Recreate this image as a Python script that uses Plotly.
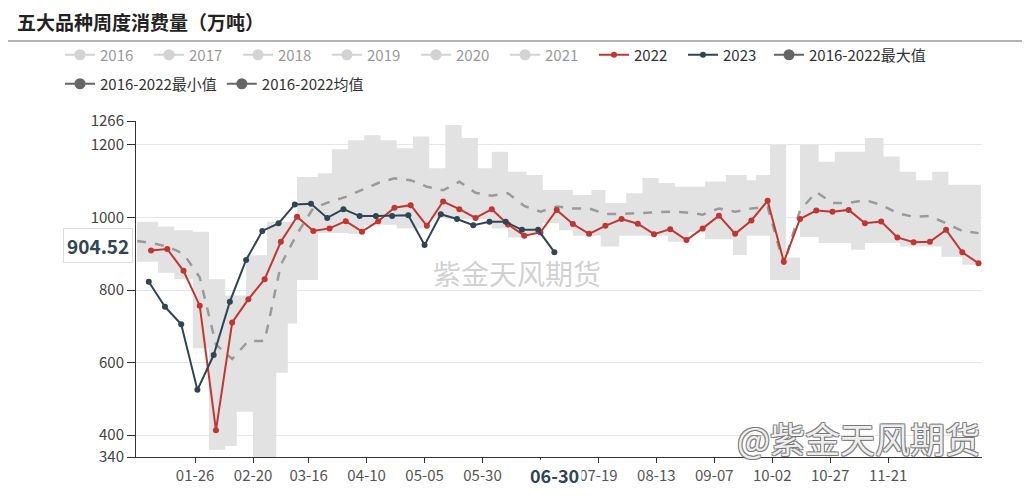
import plotly.graph_objects as go

# ---------------- data ----------------
dates_2022 = ['01-07', '01-14', '01-21', '01-28', '02-04', '02-11', '02-18', '02-25',
              '03-04', '03-11', '03-18', '03-25', '04-01', '04-08', '04-15', '04-22',
              '04-29', '05-06', '05-13', '05-20', '05-27', '06-03', '06-10', '06-17',
              '06-24', '07-01', '07-08', '07-15', '07-22', '07-29', '08-05', '08-12',
              '08-19', '08-26', '09-02', '09-09', '09-16', '09-23', '09-30', '10-07',
              '10-14', '10-21', '10-28', '11-04', '11-11', '11-18', '11-25', '12-02',
              '12-09', '12-16', '12-23', '12-30']
cons_2022 = [909, 913, 853, 757, 414, 711, 775, 830, 933, 1002, 963, 970, 990,
             961, 990, 1027, 1034, 977, 1044, 1023, 999, 1023, 981, 950, 959, 1021,
             982, 955, 977, 996, 983, 954, 968, 938, 970, 1005, 955, 992, 1046, 878,
             996, 1019, 1016, 1021, 984, 989, 945, 932, 933, 966, 904, 874]

dates_2023 = ['01-06', '01-13', '01-20', '01-27', '02-03', '02-10', '02-17', '02-24',
              '03-03', '03-10', '03-17', '03-24', '03-31', '04-07', '04-14', '04-21',
              '04-28', '05-05', '05-12', '05-19', '05-26', '06-02', '06-09', '06-16',
              '06-23', '06-30']
cons_2023 = [823, 754, 706, 525, 621, 768, 883, 963, 984, 1036, 1038, 999, 1023,
             1004, 1004, 1004, 1006, 924, 1009, 996, 979, 988, 988, 966, 966, 904.52]

mean_dates = ['01-01'] + dates_2022
mean_2016_2022 = [935, 930, 920, 900, 835, 650, 610, 660, 660, 870, 955, 1026, 1043, 1057,
                  1076, 1095, 1108, 1103, 1085, 1075, 1099, 1068, 1060, 1067, 1032, 1016, 1030,
                  1025, 1025, 1010, 1010, 1012, 1015, 1016, 1014, 1008, 1025, 1016, 1025, 1030, 870,
                  1020, 1070, 1040, 1040, 1048, 1035, 1012, 1002, 1004, 984, 963, 957]

band_dates = ['01-01', '01-10', '01-17', '01-25', '02-01', '02-08', '02-13', '02-17', '02-20',
              '02-26', '03-02', '03-07', '03-11', '03-20', '03-26', '04-02', '04-09', '04-16',
              '04-23', '04-30', '05-07', '05-14', '05-21', '05-28', '06-03', '06-10', '06-18',
              '06-25', '07-02', '07-08', '07-16', '07-20', '07-22', '07-28', '07-31', '08-07',
              '08-14', '08-18', '08-21', '08-27', '09-03', '09-12', '09-15', '09-21', '09-25',
              '10-01', '10-08', '10-14', '10-22', '10-29', '11-05', '11-11', '11-19', '11-26',
              '12-03', '12-10', '12-14', '12-17', '12-23', '12-31']
band_max = [988, 975, 965, 961, 830, 785, 785, 896, 896, 988, 988, 988, 1112, 1122, 1188,
            1213, 1227, 1213, 1191, 1223, 1136, 1255, 1219, 1136, 1181, 1126, 1117, 1076,
            1076, 1062, 1076, 1076, 1040, 1040, 1067, 1109, 1095, 1095, 1085, 1085, 1099,
            1117, 1117, 1103, 1117, 1200, 890, 1200, 1154, 1181, 1181, 1219, 1168, 1126,
            1103, 1126, 1126, 1090, 1090, 1090]
band_min = [878, 848, 830, 640, 360, 370, 465, 465, 340, 340, 572, 708, 828, 957, 957,
            955, 978, 980, 970, 970, 1000, 995, 995, 995, 970, 945, 955, 985, 965, 950,
            950, 920, 920, 950, 950, 950, 950, 933, 933, 960, 940, 940, 897, 950, 950,
            828, 828, 946, 930, 930, 911, 930, 930, 920, 920, 920, 892, 892, 870, 870]

hidden_years = ['2016', '2017', '2018', '2019', '2020', '2021']
x_tick_labels = ['01-26', '02-20', '03-16', '04-10', '05-05', '05-30', '06-24', '07-19',
                 '08-13', '09-07', '10-02', '10-27', '11-21']
y_ticks = [340, 400, 600, 800, 1000, 1200, 1266]

TITLE = '五大品种周度消费量（万吨）'
WATERMARK = '紫金天风期货'

FONT = 'Noto Sans CJK SC, Noto Sans, sans-serif'
RED = '#c23531'
DARK = '#2f4554'
GREY_LEG = '#666666'


def to_x(md):
    return '2001-' + md


fig = go.Figure()

# min / max band (step shaped)
fig.add_trace(go.Scatter(
    x=[to_x(d) for d in band_dates], y=band_min, mode='lines', line=dict(width=0, shape='hv'),
    showlegend=False, hoverinfo='skip'))
fig.add_trace(go.Scatter(
    x=[to_x(d) for d in band_dates], y=band_max, mode='lines', line=dict(width=0, shape='hv'),
    fill='tonexty', fillcolor='rgb(226,226,226)', showlegend=False, hoverinfo='skip'))

# mean dashed
fig.add_trace(go.Scatter(
    x=[to_x(d) for d in mean_dates], y=mean_2016_2022, mode='lines',
    line=dict(color='#9a9a9a', width=2.5, dash='dash'), showlegend=False))

# legend-only historical years
for yr in hidden_years:
    fig.add_trace(go.Scatter(
        x=[None], y=[None], name=yr, mode='lines+markers', visible='legendonly',
        line=dict(color='#a8a8a8', width=2), marker=dict(size=11, color='#a8a8a8'),
        legend='legend', legendwidth=44))

fig.add_trace(go.Scatter(
    x=[to_x(d) for d in dates_2022], y=cons_2022, name='2022', mode='lines+markers',
    line=dict(color=RED, width=2), marker=dict(size=6, color=RED),
    legend='legend', legendwidth=44))
fig.add_trace(go.Scatter(
    x=[to_x(d) for d in dates_2023], y=cons_2023, name='2023', mode='lines+markers',
    line=dict(color=DARK, width=2), marker=dict(size=6, color=DARK),
    legend='legend', legendwidth=41))

for nm, lg in [('2016-2022最大值', 'legend'), ('2016-2022最小值', 'legend2'),
               ('2016-2022均值', 'legend2')]:
    fig.add_trace(go.Scatter(
        x=[None], y=[None], name=nm, mode='lines+markers',
        line=dict(color=GREY_LEG, width=2), marker=dict(size=11, color=GREY_LEG),
        legend=lg))

# ---------------- layout ----------------
# the page body has an 8px margin, so reference pixel positions are shifted by OFF
OFF = 8
W, H = 1030, 500
PL, PR, PT, PB = 136, 982, 121, 457          # plot area in reference pixels
L, R, T, B = PL - OFF, W - (PR - OFF), PT - OFF, H - (PB - OFF)
pw, ph = W - L - R, H - T - B


def px_x(px):
    return (px - OFF - L) / pw


def px_y(py):
    return (H - B - (py - OFF)) / ph


tick_text = ['' if t == dates_2023[-1][:2] + '-24' else t for t in x_tick_labels]

fig.update_layout(
    width=W, height=H,
    margin=dict(l=L, r=R, t=T, b=B),
    paper_bgcolor='white', plot_bgcolor='white',
    font=dict(family=FONT, size=15, color='#333'),
    title=dict(text=TITLE, x=(17 - OFF) / W, xanchor='left', y=1 - (23 - OFF) / H,
               yanchor='middle',
               font=dict(family=FONT, size=19, color='#222', weight=700)),
    legend=dict(orientation='h', x=px_x(60), xanchor='left', y=px_y(55), yanchor='middle',
                traceorder='normal',
                font=dict(size=15, color='#333'), bgcolor='rgba(0,0,0,0)', itemwidth=30),
    legend2=dict(orientation='h', x=px_x(60), xanchor='left', y=px_y(84), yanchor='middle',
                 traceorder='normal',
                 font=dict(size=15, color='#333'), bgcolor='rgba(0,0,0,0)', itemwidth=30),
    xaxis=dict(type='date', range=['2000-12-31 12:00', '2001-12-31 12:00'],
               tickvals=[to_x(t) for t in x_tick_labels], ticktext=tick_text,
               showgrid=False, zeroline=False, showline=True, linecolor='#333', linewidth=1,
               ticks='outside', ticklen=5, tickcolor='#333',
               tickfont=dict(size=15, color='#555')),
    yaxis=dict(range=[340, 1266], tickvals=y_ticks, ticktext=[str(v) for v in y_ticks],
               showgrid=True, gridcolor='#e6e6e6', gridwidth=1, zeroline=False,
               showline=True, linecolor='#333', linewidth=1,
               ticks='outside', ticklen=8, tickcolor='#333',
               tickfont=dict(size=15, color='#444')),
    hovermode=False,
)

# rule under title
fig.add_shape(type='line', xref='paper', yref='paper', x0=px_x(5), x1=px_x(1022),
              y0=px_y(41), y1=px_y(41), line=dict(color='#999', width=1.5))

# watermarks
fig.add_annotation(text=WATERMARK, xref='paper', yref='paper', x=px_x(517), y=px_y(273),
                   xanchor='center', yanchor='middle', showarrow=False,
                   font=dict(size=28, color='rgba(170,170,170,0.55)', family=FONT))
fig.add_annotation(text='@' + WATERMARK, xref='paper', yref='paper', x=px_x(858), y=px_y(437),
                   xanchor='center', yanchor='middle', showarrow=False,
                   font=dict(size=35, color='rgba(255,255,255,0.9)', family=FONT,
                             shadow='1px 1px 0 #777, -1px -1px 0 #777, 1px -1px 0 #777, -1px 1px 0 #777'))

# axis pointer labels (latest 2023 point)
fig.add_annotation(text=dates_2023[-1],
                   x=to_x(dates_2023[-1]), xref='x', yref='paper', y=0, yshift=-18,
                   xanchor='center', yanchor='middle', showarrow=False, bgcolor='white',
                   borderpad=2, font=dict(size=18, color=DARK, family=FONT, weight=700))
fig.add_annotation(text=f'{cons_2023[-1]:.2f}', xref='paper', x=px_x(133), xanchor='right',
                   y=cons_2023[-1], yref='y', yshift=7, yanchor='middle', showarrow=False,
                   bgcolor='white', bordercolor='#dddddd', borderwidth=1, borderpad=3,
                   font=dict(size=19, color=DARK, family=FONT, weight=700))

fig.write_html('out.html')
